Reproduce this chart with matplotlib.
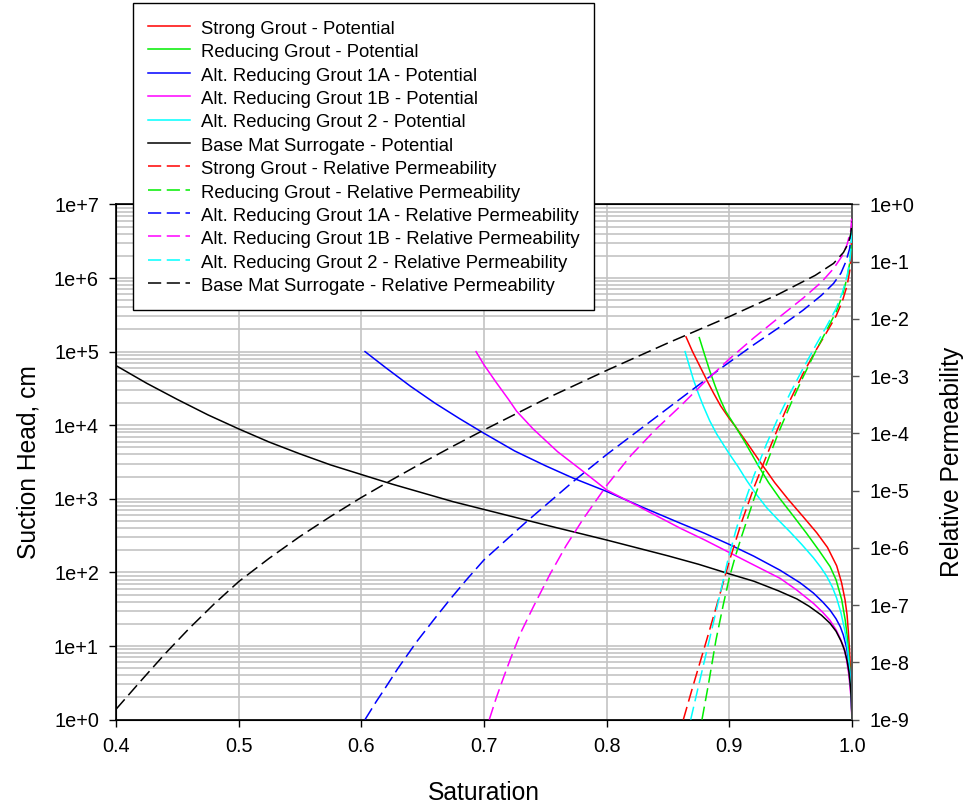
import numpy as np
import matplotlib
matplotlib.use("Agg")
import matplotlib.pyplot as plt
from matplotlib.ticker import FixedLocator, FuncFormatter, LogLocator, NullFormatter
from matplotlib.lines import Line2D

plt.rcParams['font.family'] = ['Liberation Sans', 'DejaVu Sans']
plt.rcParams['lines.scale_dashes'] = False

# ---------------- data (log10 of values) ----------------
# Potential curves (left axis: suction head, cm)
sg_pot_s = [0.8647, 0.87, 0.876, 0.882, 0.887, 0.893, 0.90, 0.9046, 0.914, 0.9264, 0.937, 0.9481,
            0.96, 0.9712, 0.98, 0.9875, 0.9915, 0.9943, 0.996, 0.997, 0.998, 0.9992, 1.0]
sg_pot_log = [5.20, 5.00, 4.80, 4.60, 4.44, 4.26, 4.09, 3.99, 3.77, 3.47, 3.22, 2.99,
              2.76, 2.54, 2.34, 2.09, 1.86, 1.63, 1.42, 1.20, 0.94, 0.52, 0.0]

rg_pot_s = [0.8755, 0.88, 0.8842, 0.8885, 0.8924, 0.897, 0.9046, 0.912, 0.9236, 0.932, 0.9413, 0.952,
            0.963, 0.973, 0.9821, 0.987, 0.9916, 0.9945, 0.9962, 0.998, 0.9993, 1.0]
rg_pot_log = [5.19, 4.95, 4.73, 4.53, 4.36, 4.19, 3.99, 3.79, 3.45, 3.22, 3.00, 2.77,
              2.53, 2.30, 2.08, 1.90, 1.63, 1.35, 1.12, 0.75, 0.38, 0.0]

a1a_pot_s = [0.603, 0.62, 0.64, 0.66, 0.68, 0.70, 0.725, 0.75, 0.7728, 0.80, 0.83, 0.8598, 0.88,
             0.90, 0.92, 0.9413, 0.9576, 0.9685, 0.976, 0.982, 0.987, 0.9905, 0.9929, 0.9957,
             0.9978, 0.9992, 1.0]
a1a_pot_log = [5.00, 4.78, 4.53, 4.30, 4.09, 3.89, 3.65, 3.45, 3.28, 3.10, 2.88, 2.67, 2.53,
               2.38, 2.22, 2.03, 1.86, 1.72, 1.60, 1.49, 1.37, 1.26, 1.15, 0.97,
               0.72, 0.45, 0.0]

a1b_pot_s = [0.6935, 0.70, 0.705, 0.71, 0.72, 0.7266, 0.74, 0.76, 0.781, 0.80, 0.8245, 0.86, 0.88,
             0.90, 0.92, 0.9413, 0.955, 0.9685, 0.976, 0.982, 0.987, 0.9905, 0.9929, 0.9955,
             0.9975, 0.999, 1.0]
a1b_pot_log = [5.00, 4.82, 4.70, 4.58, 4.35, 4.19, 3.95, 3.64, 3.37, 3.12, 2.91, 2.60, 2.44,
               2.27, 2.10, 1.92, 1.76, 1.58, 1.46, 1.35, 1.22, 1.10, 1.00, 0.82,
               0.60, 0.33, 0.0]

a2_pot_s = [0.8639, 0.8675, 0.8707, 0.875, 0.8788, 0.884, 0.8897, 0.895, 0.90, 0.907, 0.9141, 0.922,
            0.9304, 0.94, 0.9495, 0.959, 0.9685, 0.9745, 0.9793, 0.984, 0.9875, 0.991, 0.9943,
            0.9965, 0.9982, 0.9994, 1.0]
a2_pot_log = [5.00, 4.80, 4.62, 4.42, 4.26, 4.06, 3.88, 3.74, 3.61, 3.44, 3.25, 3.06,
              2.88, 2.71, 2.55, 2.38, 2.20, 2.07, 1.95, 1.80, 1.65, 1.45, 1.20,
              0.95, 0.65, 0.33, 0.0]

bm_pot_s = [0.40, 0.425, 0.45, 0.475, 0.50, 0.525, 0.55, 0.575, 0.60, 0.625, 0.65, 0.675, 0.70,
            0.75, 0.80, 0.85, 0.875, 0.90, 0.92, 0.94, 0.955, 0.965, 0.975, 0.982, 0.987, 0.991,
            0.994, 0.996, 0.9975, 0.9988, 0.9996, 1.0]
bm_pot_log = [4.81, 4.57, 4.35, 4.14, 3.95, 3.77, 3.61, 3.46, 3.33, 3.20, 3.08, 2.96, 2.855,
              2.645, 2.44, 2.225, 2.11, 1.98, 1.88, 1.75, 1.64, 1.54, 1.42, 1.31, 1.20, 1.07,
              0.94, 0.80, 0.65, 0.44, 0.22, 0.0]

# Relative permeability curves (right axis)
sg_kr_s = [0.8625, 0.87, 0.8815, 0.891, 0.90, 0.91, 0.92, 0.93, 0.94, 0.95, 0.96, 0.97, 0.98,
           0.987, 0.992, 0.996, 0.9985, 1.0]
sg_kr_log = [-9.00, -8.44, -7.61, -6.91, -6.23, -5.55, -4.95, -4.41, -3.89, -3.40, -2.96, -2.57,
             -2.21, -1.95, -1.70, -1.42, -1.12, -0.50]

rg_kr_s = [0.8777, 0.883, 0.8891, 0.895, 0.90, 0.905, 0.91, 0.92, 0.93, 0.94, 0.95, 0.96, 0.97,
           0.98, 0.987, 0.992, 0.996, 0.9985, 1.0]
rg_kr_log = [-9.00, -8.38, -7.61, -7.00, -6.52, -6.14, -5.80, -5.15, -4.55, -3.99, -3.49, -3.02,
             -2.58, -2.17, -1.88, -1.60, -1.28, -0.98, -0.45]

a1a_kr_s = [0.603, 0.612, 0.6179, 0.63, 0.6451, 0.66, 0.6723, 0.686, 0.70, 0.7348, 0.7728, 0.80,
            0.8598, 0.892, 0.92, 0.9413, 0.96, 0.975, 0.985, 0.991, 0.995, 0.998, 1.0]
a1a_kr_log = [-9.00, -8.69, -8.50, -8.10, -7.64, -7.23, -6.90, -6.55, -6.21, -5.54, -4.84, -4.37,
              -3.40, -2.88, -2.45, -2.14, -1.85, -1.59, -1.38, -1.20, -1.00, -0.78, -0.45]

a1b_kr_s = [0.7043, 0.71, 0.716, 0.7212, 0.73, 0.7402, 0.7538, 0.767, 0.781, 0.80, 0.82, 0.84,
            0.8598, 0.88, 0.90, 0.92, 0.9413, 0.96, 0.975, 0.985, 0.992, 0.996, 0.999, 1.0]
a1b_kr_log = [-9.00, -8.62, -8.26, -7.96, -7.48, -7.03, -6.46, -5.96, -5.49, -4.91, -4.38, -3.93,
              -3.53, -3.10, -2.70, -2.33, -1.96, -1.64, -1.36, -1.12, -0.90, -0.70, -0.45, -0.18]

a2_kr_s = [0.8685, 0.875, 0.8837, 0.89, 0.8984, 0.905, 0.91, 0.92, 0.93, 0.94, 0.95, 0.96, 0.97,
           0.98, 0.987, 0.992, 0.996, 0.9985, 1.0]
a2_kr_log = [-9.00, -8.40, -7.61, -7.03, -6.25, -5.72, -5.36, -4.74, -4.20, -3.72, -3.28, -2.87,
             -2.48, -2.10, -1.82, -1.55, -1.25, -0.95, -0.42]

bm_kr_s = [0.40, 0.42, 0.44, 0.46, 0.48, 0.50, 0.525, 0.55, 0.575, 0.60, 0.625, 0.65, 0.675, 0.70,
           0.75, 0.80, 0.85, 0.90, 0.94, 0.97, 0.985, 0.993, 0.997, 0.999, 1.0]
bm_kr_log = [-8.82, -8.33, -7.85, -7.40, -6.98, -6.59, -6.18, -5.80, -5.45, -5.12, -4.81, -4.51,
             -4.22, -3.94, -3.40, -2.90, -2.42, -1.96, -1.57, -1.24, -1.03, -0.84, -0.68, -0.52,
             -0.30]

names = ["Strong Grout", "Reducing Grout", "Alt. Reducing Grout 1A",
         "Alt. Reducing Grout 1B", "Alt. Reducing Grout 2", "Base Mat Surrogate"]
colors = ["#ff0000", "#00ee00", "#0000ff", "#ff00ff", "#00ffff", "#000000"]
pot_series = [(sg_pot_s, sg_pot_log), (rg_pot_s, rg_pot_log), (a1a_pot_s, a1a_pot_log),
              (a1b_pot_s, a1b_pot_log), (a2_pot_s, a2_pot_log), (bm_pot_s, bm_pot_log)]
kr_series = [(sg_kr_s, sg_kr_log), (rg_kr_s, rg_kr_log), (a1a_kr_s, a1a_kr_log),
             (a1b_kr_s, a1b_kr_log), (a2_kr_s, a2_kr_log), (bm_kr_s, bm_kr_log)]

x_ticks = [0.4, 0.5, 0.6, 0.7, 0.8, 0.9, 1.0]
left_ticks = [1e0, 1e1, 1e2, 1e3, 1e4, 1e5, 1e6, 1e7]
right_ticks = [1e-9, 1e-8, 1e-7, 1e-6, 1e-5, 1e-4, 1e-3, 1e-2, 1e-1, 1e0]

# ---------------- figure ----------------
W, H = 963, 809
fig = plt.figure(figsize=(W / 100, H / 100), dpi=100)
ax = fig.add_axes([116 / W, 1 - 719.6 / H, 736 / W, 515.2 / H])
ax2 = ax.twinx()

LW = 1.1
DASH = (9.5, 4.0)
grid_c = "#c4c4c4"

for (s, v), c in zip(pot_series, colors):
    ax.plot(s, 10 ** np.array(v), color=c, lw=LW, solid_joinstyle='round', zorder=3)
for (s, v), c in zip(kr_series, colors):
    ax2.plot(s, 10 ** np.array(v), color=c, lw=LW, dashes=DASH, zorder=3)

ax.set_xlim(0.4, 1.0)
ax.set_yscale('log')
ax.set_ylim(1e0, 1e7)
ax2.set_yscale('log')
ax2.set_ylim(1e-9, 1e0)

fmt = FuncFormatter(lambda v, p: "1e{:+d}".format(int(round(np.log10(v)))))
ax.yaxis.set_major_locator(FixedLocator(left_ticks))
ax.yaxis.set_major_formatter(fmt)
ax.yaxis.set_minor_locator(LogLocator(base=10, subs=np.arange(2, 10)))
ax.yaxis.set_minor_formatter(NullFormatter())
ax2.yaxis.set_major_locator(FixedLocator(right_ticks))
ax2.yaxis.set_major_formatter(fmt)
ax2.yaxis.set_minor_locator(FixedLocator([]))
ax.xaxis.set_major_locator(FixedLocator(x_ticks))
ax.xaxis.set_major_formatter(FuncFormatter(lambda v, p: "{:.1f}".format(v)))

ax.grid(True, which='both', axis='y', color=grid_c, lw=1.2, zorder=0)
ax.grid(True, which='major', axis='x', color=grid_c, lw=1.2, zorder=0)
ax.set_axisbelow(True)

tick_fs = 14.3
ax.tick_params(axis='both', which='major', direction='out', length=5.3, width=1.0,
               labelsize=tick_fs, pad=7, colors='black')
ax.tick_params(axis='y', which='minor', length=0)
ax2.tick_params(axis='y', which='major', direction='out', length=5.3, width=1.0,
                labelsize=tick_fs, pad=7, color='#555555', labelcolor='black')

for sp in ['left', 'bottom', 'top']:
    ax.spines[sp].set_linewidth(1.2)
    ax.spines[sp].set_color('black')
for a in (ax, ax2):
    a.spines['right'].set_color('#555555')
    a.spines['right'].set_linewidth(1.2)
ax2.spines['top'].set_color('black')

lab_fs = 17.7
ax.set_xlabel("Saturation", fontsize=lab_fs)
ax.set_ylabel("Suction Head, cm", fontsize=lab_fs)
ax2.set_ylabel("Relative Permeability", fontsize=lab_fs)
ax.xaxis.set_label_coords(0.5, (719.6 - 781) / 515.2)
ax.yaxis.set_label_coords((41 - 116) / 736, 0.5)
ax2.yaxis.set_label_coords((940 - 116) / 736, 0.5)

# legend
handles = []
labels = []
for n, c in zip(names, colors):
    handles.append(Line2D([], [], color=c, lw=LW))
    labels.append(n + " - Potential")
for n, c in zip(names, colors):
    handles.append(Line2D([], [], color=c, lw=LW, dashes=DASH))
    labels.append(n + " - Relative Permeability")

leg = fig.legend(handles, labels, loc='upper left', bbox_to_anchor=(133 / W, 1 - 3.3 / H),
                 bbox_transform=fig.transFigure, fontsize=13.3, frameon=True, fancybox=False,
                 shadow=False, framealpha=1.0, edgecolor='black', borderpad=0.8,
                 labelspacing=0.2, handleheight=1.2, handlelength=2.3, handletextpad=0.58,
                 borderaxespad=0)
leg.get_frame().set_linewidth(1.0)

fig.savefig("out.png", dpi=100)
